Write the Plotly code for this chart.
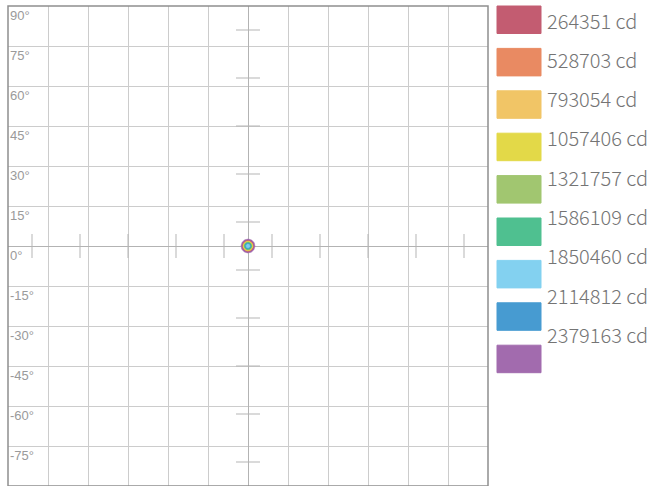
import numpy as np
import plotly.graph_objects as go

# ---- data ----
levels_cd = [264351, 528703, 793054, 1057406, 1321757, 1586109, 1850460, 2114812, 2379163]
level_labels = [f"{v} cd" for v in levels_cd]
box_colors = ["#c0546a", "#e8845a", "#f1c25e", "#e2d83f", "#9cc469",
              "#46bd8b", "#7dcff0", "#3e96cf", "#9e64aa"]
# isocandela contour radius (degrees) for each legend colour
contour_radius = [2.05, 1.9, 1.8, 1.7, 1.5, 1.35, 0.75, 1.05, 2.6]
y_tick_vals = [90, 75, 60, 45, 30, 15, 0, -15, -30, -45, -60, -75]
y_tick_text = [f"{v}°" for v in y_tick_vals]
cross_ticks = [-81, -63, -45, -27, -9, 9, 27, 45, 63, 81]
cross_half = 4.5

fig = go.Figure()

# cross tick marks on the centre lines
hx, hy = [], []
for t in cross_ticks:
    hx += [t, t, None]
    hy += [-cross_half, cross_half, None]
vx, vy = [], []
for t in cross_ticks:
    vx += [-cross_half, cross_half, None]
    vy += [t, t, None]
fig.add_trace(go.Scatter(x=hx, y=hy, mode="lines", line=dict(color="#b5b5b5", width=1),
                         hoverinfo="skip", showlegend=False))
fig.add_trace(go.Scatter(x=vx, y=vy, mode="lines", line=dict(color="#b5b5b5", width=1),
                         hoverinfo="skip", showlegend=False))

# isocandela contours (drawn largest first)
theta = np.linspace(0, 2 * np.pi, 73)
order = sorted(range(len(contour_radius)), key=lambda i: -contour_radius[i])
for i in order:
    r = contour_radius[i]
    fig.add_trace(go.Scatter(x=r * np.cos(theta), y=r * np.sin(theta), mode="lines",
                             fill="toself", fillcolor=box_colors[i],
                             line=dict(color=box_colors[i], width=0.5),
                             name=level_labels[i], showlegend=False, hoverinfo="skip"))

# legend boxes and labels (paper coordinates relative to the plot area)
L, T, W, H = 8, 6, 480, 480
def px(x):
    return (x - L) / W
def py(y):
    return (T + H - y) / H

shapes = []
annotations = []
for k, col in enumerate(box_colors):
    top = 6 + 42.4 * k
    shapes.append(dict(type="rect", xref="paper", yref="paper",
                       x0=px(497), x1=px(541), y0=py(top + 27.5), y1=py(top),
                       fillcolor=col, line=dict(color=col, width=1), opacity=0.95))
for k, lab in enumerate(level_labels):
    yc = 20 + 39.3 * k
    annotations.append(dict(xref="paper", yref="paper", x=px(545), y=py(yc),
                            xanchor="left", yanchor="middle", text=lab, showarrow=False,
                            font=dict(family="Noto Sans CJK JP", size=20, color="#747474",
                                      weight=300)))

# y labels inside plot
for v, t in zip(y_tick_vals, y_tick_text):
    annotations.append(dict(xref="x", yref="y", x=-90, y=v, xanchor="left", yanchor="top",
                            xshift=0, yshift=0, text=t, showarrow=False,
                            font=dict(family="Liberation Sans", size=13, color="#9a9a9a")))

# plot border
shapes.append(dict(type="rect", xref="paper", yref="paper", x0=0, x1=1, y0=0, y1=1,
                   line=dict(color="#8f8f8f", width=1.5), fillcolor="rgba(0,0,0,0)"))

fig.update_layout(
    width=653, height=486,
    margin=dict(l=L, r=653 - L - W, t=T, b=0),
    paper_bgcolor="white", plot_bgcolor="white",
    shapes=shapes, annotations=annotations,
    showlegend=False,
    xaxis=dict(range=[-90, 90], dtick=15, tick0=0, showticklabels=False, ticks="",
               showgrid=True, gridcolor="#cccccc", gridwidth=1,
               zeroline=True, zerolinecolor="#b3b3b3", zerolinewidth=1, fixedrange=True),
    yaxis=dict(range=[-90, 90], dtick=15, tick0=0, showticklabels=False, ticks="",
               showgrid=True, gridcolor="#cccccc", gridwidth=1,
               zeroline=True, zerolinecolor="#b3b3b3", zerolinewidth=1, fixedrange=True),
)

fig.write_html("out.html", config={"displayModeBar": False},
               post_script="document.body.style.margin='0px';")
